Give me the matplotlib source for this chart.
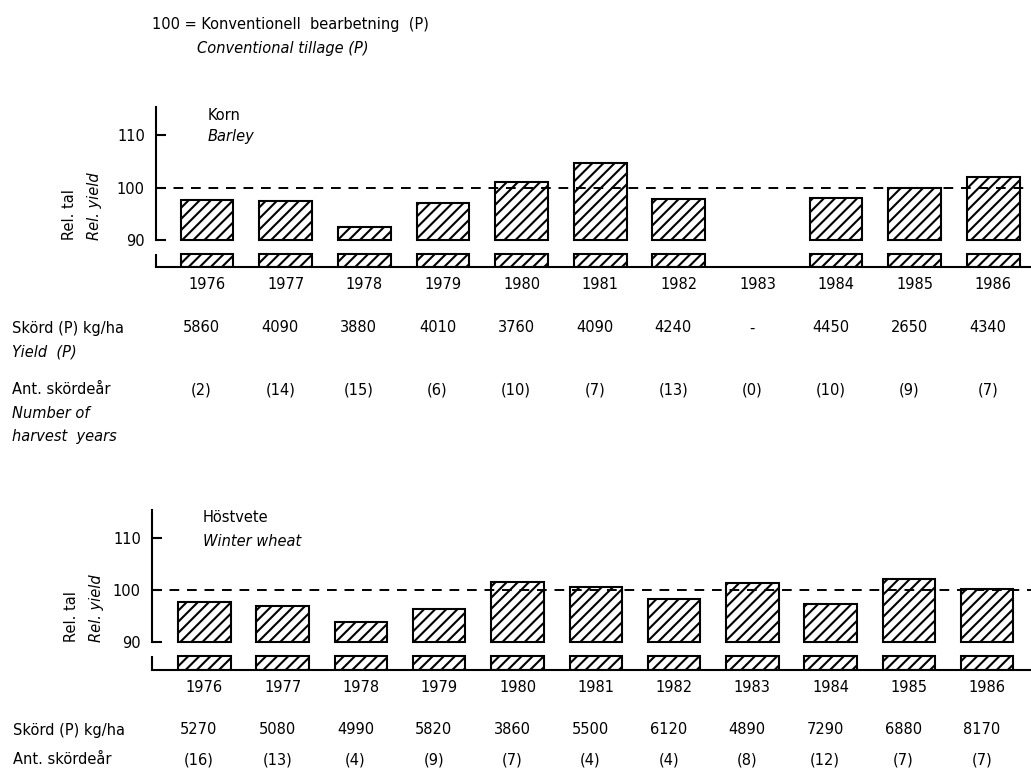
"""Relative yield of reduced tillage vs. conventional tillage (P = 100),
barley and winter wheat, 1976-1986.

Each panel is a broken-axis bar chart: the bars start at 90 and a short
stub below the break stands in for the part of the bar that is cut away.
Absolute yields of the reference treatment and the number of harvest
years are printed as rows of text under each panel.
"""

import matplotlib

matplotlib.use("Agg")
import matplotlib.pyplot as plt
import numpy as np
from matplotlib.transforms import blended_transform_factory

W, H = 1031, 775

YEARS = [1976, 1977, 1978, 1979, 1980, 1981, 1982, 1983, 1984, 1985, 1986]

# Korn / Barley (1983 has no data)
BARLEY_REL = [97.6, 97.5, 92.5, 97.1, 101.0, 104.7, 97.9, np.nan, 98.1,
              100.0, 102.1]
BARLEY_YIELD = ["5860", "4090", "3880", "4010", "3760", "4090", "4240", "-",
                "4450", "2650", "4340"]
BARLEY_N = [2, 14, 15, 6, 10, 7, 13, 0, 10, 9, 7]

# Höstvete / Winter wheat
WHEAT_REL = [97.7, 96.9, 93.8, 96.2, 101.4, 100.5, 98.3, 101.2, 97.2,
             102.1, 100.2]
WHEAT_YIELD = ["5270", "5080", "4990", "5820", "3860", "5500", "6120", "4890",
               "7290", "6880", "8170"]
WHEAT_N = [16, 13, 4, 9, 7, 4, 4, 8, 12, 7, 7]

BREAK = 90.0
FS = 10.5
LW = 1.5


def fy(y_px):
    return 1 - y_px / H


def panel(fig, rect, xlim, ylim, stub_top, spine_top, rel):
    ax = fig.add_axes(rect)
    ax.set_xlim(*xlim)
    ax.set_ylim(*ylim)
    base = ylim[0]
    x = np.arange(len(YEARS))
    rel = np.asarray(rel, dtype=float)
    ok = ~np.isnan(rel)

    style = dict(width=0.67, facecolor="white", edgecolor="black",
                 hatch="///", linewidth=LW, zorder=2)
    ax.bar(x[ok], rel[ok] - BREAK, bottom=BREAK, **style)
    ax.bar(x[ok], np.full(ok.sum(), stub_top - base), bottom=base, **style)

    ax.axhline(100, color="black", lw=1.4, ls=(0, (5, 4)), zorder=3)

    for s in ("top", "right"):
        ax.spines[s].set_visible(False)
    ax.spines["left"].set_bounds(BREAK, spine_top)
    ax.spines["left"].set_linewidth(LW)
    ax.spines["bottom"].set_linewidth(LW)
    # lower piece of the broken y axis
    ax.plot([xlim[0], xlim[0]], [base, stub_top], color="black", lw=LW,
            clip_on=False, solid_capstyle="butt", zorder=4)

    ax.set_yticks([90, 100, 110])
    ax.tick_params(axis="y", direction="in", length=7, width=LW, pad=8,
                   labelsize=FS)
    ax.set_xticks(x, [str(y) for y in YEARS])
    ax.tick_params(axis="x", length=0, pad=7, labelsize=FS)
    return ax


def value_row(fig, ax, y_px, labels):
    tr = blended_transform_factory(ax.transData, fig.transFigure)
    for i, s in enumerate(labels):
        fig.text(i - 0.07, fy(y_px), s, transform=tr, ha="center",
                 va="center", fontsize=FS)


def main() -> None:
    plt.rcParams["font.family"] = ["DejaVu Sans"]
    plt.rcParams["hatch.linewidth"] = 1.5
    fig = plt.figure(figsize=(W / 100, H / 100), dpi=100)

    fig.text(152 / W, fy(25), "100 = Konventionell  bearbetning  (P)",
             fontsize=FS, va="center")
    fig.text(197 / W, fy(48), "Conventional tillage (P)", fontsize=FS,
             style="italic", va="center")

    # top panel: barley
    top = panel(fig, [156 / W, fy(267), 1 - 156 / W, (267 - 103.5) / H],
                (-0.65, 10.48), (84.9, 116.0), 87.4, 115.3, BARLEY_REL)
    fig.text(208 / W, fy(115), "Korn", fontsize=FS, va="center")
    fig.text(208 / W, fy(137), "Barley", fontsize=FS, va="center",
             style="italic")
    fig.text(70 / W, fy(240), "Rel. tal", rotation=90, ha="center",
             va="bottom", fontsize=FS)
    fig.text(95 / W, fy(240), "Rel. yield", rotation=90, ha="center",
             va="bottom", fontsize=FS, style="italic")

    fig.text(12 / W, fy(328), "Skörd (P) kg/ha", fontsize=FS, va="center")
    fig.text(12 / W, fy(352), "Yield  (P)", fontsize=FS, va="center",
             style="italic")
    fig.text(12 / W, fy(390), "Ant. skördeår", fontsize=FS, va="center")
    fig.text(12 / W, fy(413), "Number of", fontsize=FS, va="center",
             style="italic")
    fig.text(12 / W, fy(437), "harvest  years", fontsize=FS, va="center",
             style="italic")
    value_row(fig, top, 328, BARLEY_YIELD)
    value_row(fig, top, 390, [f"({n})" for n in BARLEY_N])

    # bottom panel: winter wheat
    bot = panel(fig, [152 / W, fy(670), 1 - 152 / W, (670 - 506.5) / H],
                (-0.67, 10.56), (84.56, 116.0), 87.2, 115.3, WHEAT_REL)
    fig.text(203 / W, fy(518), "Höstvete", fontsize=FS, va="center")
    fig.text(203 / W, fy(542), "Winter wheat", fontsize=FS, va="center",
             style="italic")
    fig.text(72 / W, fy(642), "Rel. tal", rotation=90, ha="center",
             va="bottom", fontsize=FS)
    fig.text(97 / W, fy(642), "Rel. yield", rotation=90, ha="center",
             va="bottom", fontsize=FS, style="italic")

    fig.text(13 / W, fy(730), "Skörd (P) kg/ha", fontsize=FS, va="center")
    fig.text(13 / W, fy(760), "Ant. skördeår", fontsize=FS, va="center")
    value_row(fig, bot, 730, WHEAT_YIELD)
    value_row(fig, bot, 760, [f"({n})" for n in WHEAT_N])

    fig.savefig("out.png", dpi=100)


if __name__ == "__main__":
    main()
